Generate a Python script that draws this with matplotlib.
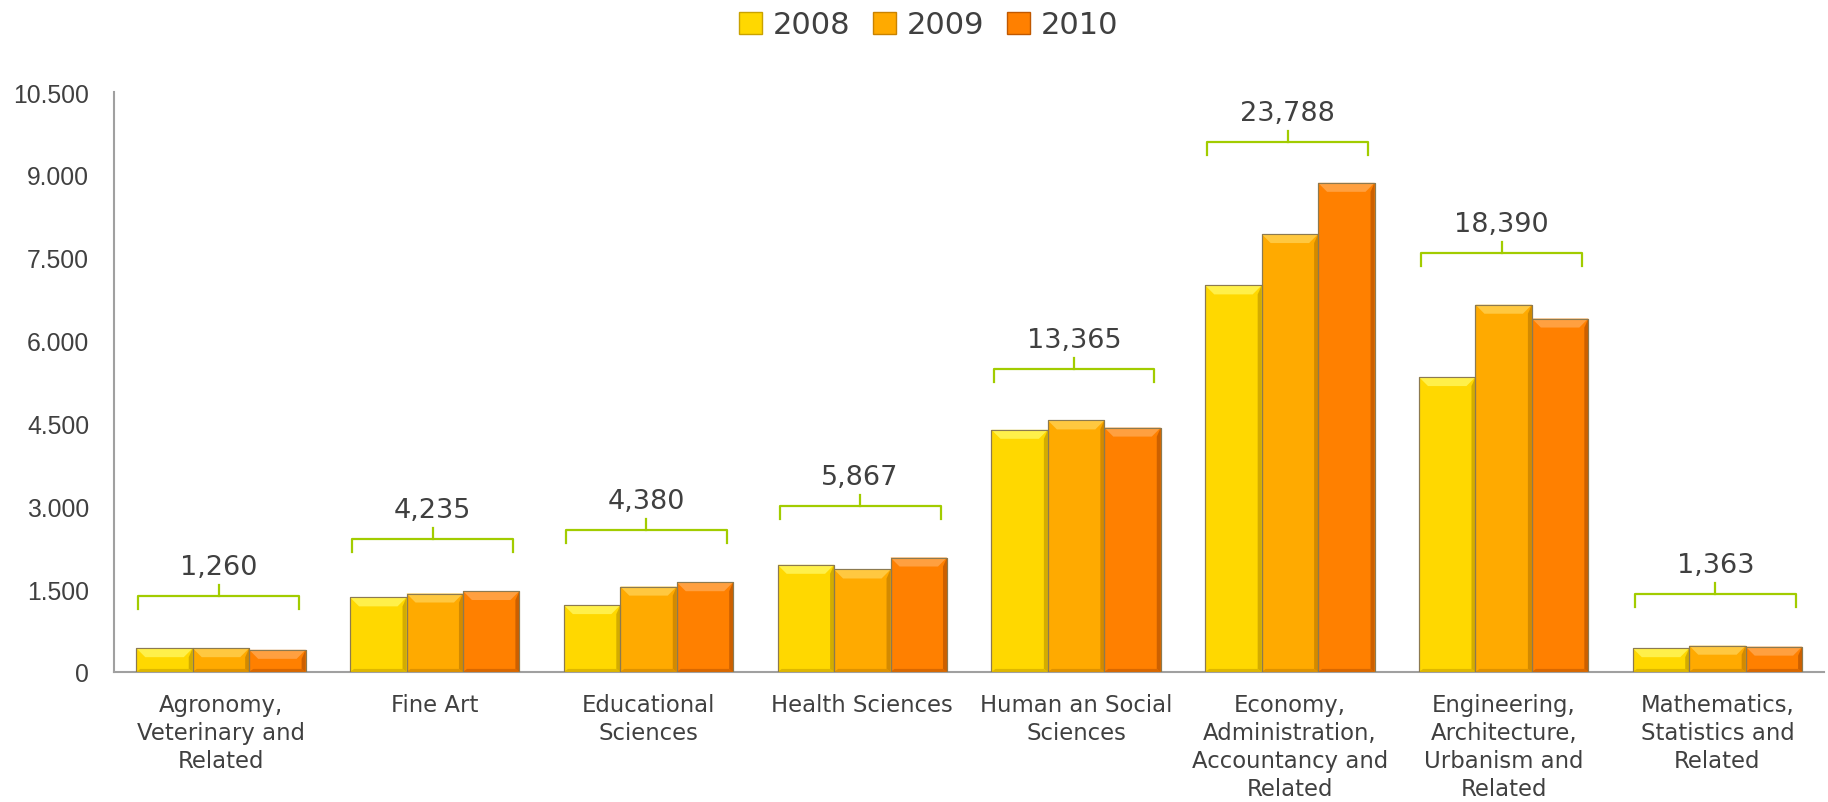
import matplotlib
matplotlib.use('Agg')
import matplotlib.pyplot as plt
import numpy as np
from matplotlib.patches import Polygon, Patch
from matplotlib.ticker import FuncFormatter

# ==========================================
# data
# ==========================================
categories = ['Agronomy,\nVeterinary and\nRelated', 'Fine Art', 'Educational\nSciences',
              'Health Sciences', 'Human an Social\nSciences',
              'Economy,\nAdministration,\nAccountancy and\nRelated',
              'Engineering,\nArchitecture,\nUrbanism and\nRelated',
              'Mathematics,\nStatistics and\nRelated']
years = ['2008', '2009', '2010']
v2008 = [430, 1350, 1210, 1940, 4385, 7000, 5340, 430]
v2009 = [430, 1420, 1545, 1855, 4555, 7930, 6650, 475]
v2010 = [400, 1465, 1625, 2072, 4425, 8858, 6400, 458]
totals = ['1,260', '4,235', '4,380', '5,867', '13,365', '23,788', '18,390', '1,363']
yticks = [0, 1500, 3000, 4500, 6000, 7500, 9000, 10500]

colors = ['#FFD800', '#FFAA00', '#FF8000']
light = ['#FFF04A', '#FFC840', '#FFA040']
dark = ['#C9A200', '#C98200', '#C05800']
txt_col = '#404040'
brace_col = '#A2CC00'

plt.rcParams['font.family'] = ['DejaVu Sans']

fig = plt.figure(figsize=(18.28, 8.03), dpi=100)
ax = fig.add_axes([0.0624, 0.162, 0.9356, 0.722])

x = np.arange(len(categories))
w = 0.264
series = [v2008, v2009, v2010]
bars = []
for i, vals in enumerate(series):
    b = ax.bar(x + (i - 1) * w, vals, width=w, color=colors[i], edgecolor='#8C7A50',
               linewidth=0.8, zorder=3, label=years[i])
    bars.append(b)

ax.set_xlim(-0.5, len(categories) - 0.5)
ax.set_ylim(0, 10500)

# bevel effect (sizes in pixels converted to data units)
fig.canvas.draw()
px_x = (ax.get_xlim()[1] - ax.get_xlim()[0]) / ax.get_window_extent().width
px_y = (ax.get_ylim()[1] - ax.get_ylim()[0]) / ax.get_window_extent().height
bev = 9
for i, b in enumerate(bars):
    for p in b.patches:
        x0, x1 = p.get_x(), p.get_x() + p.get_width()
        top = p.get_height()
        bx = bev * px_x
        by = min(bev * px_y, top / 2)
        sx = 4 * px_x
        ax.add_patch(Polygon([(x0, top), (x1, top), (x1 - bx, top - by), (x0 + bx, top - by)],
                             closed=True, facecolor=light[i], edgecolor='none', zorder=4))
        ax.add_patch(Polygon([(x1, top), (x1, 0), (x1 - sx, 3 * px_y), (x1 - sx, top - by)],
                             closed=True, facecolor=dark[i], edgecolor='none', zorder=4, alpha=0.8))
        ax.add_patch(Polygon([(x0, 0), (x1, 0), (x1 - sx, 3 * px_y), (x0 + sx, 3 * px_y)],
                             closed=True, facecolor=dark[i], edgecolor='none', zorder=4, alpha=0.6))
        ax.add_patch(plt.Rectangle((x0, 0), x1 - x0, top, fill=False, edgecolor='#8C7A50',
                                   linewidth=0.8, zorder=5))

# braces with group totals
for j in range(len(categories)):
    top = min(max(v2008[j], v2009[j], v2010[j]) + 940, 9590)
    left = x[j] - 1.5 * w + 0.01
    right = x[j] + 1.5 * w - 0.03
    mid = (left + right) / 2
    drop = 13 * px_y
    ax.plot([left, left, right, right], [top - drop, top, top, top - drop],
            color=brace_col, lw=1.6, zorder=6, solid_joinstyle='round')
    ax.plot([mid, mid], [top, top + 11 * px_y], color=brace_col, lw=1.6, zorder=6)
    ax.text(mid, top + 29 * px_y, totals[j], ha='center', va='center',
            fontsize=19.5, color=txt_col)

ax.set_yticks(yticks)
ax.yaxis.set_major_formatter(FuncFormatter(lambda v, p: f"{int(v):,}".replace(',', '.')))
for lab in ax.get_yticklabels():
    lab.set_fontfamily('Liberation Sans')
ax.tick_params(axis='y', length=0, pad=18, labelsize=17.8, labelcolor=txt_col)
ax.set_xticks(x)
ax.set_xticklabels(categories, fontsize=16.4, color=txt_col, linespacing=1.29)
ax.tick_params(axis='x', length=0, pad=15)

for s in ['top', 'right']:
    ax.spines[s].set_visible(False)
for s in ['left', 'bottom']:
    ax.spines[s].set_color('#A0A0A0')
    ax.spines[s].set_linewidth(1.5)

handles = [Patch(facecolor=colors[i], edgecolor=dark[i], label=years[i]) for i in range(3)]
fig.legend(handles=handles, loc='upper center', bbox_to_anchor=(0.508, 1.02), ncol=3,
           frameon=False, fontsize=22, handlelength=0.75, handleheight=0.75,
           handletextpad=0.35, columnspacing=0.75, labelcolor=txt_col)

plt.savefig('out.png', dpi=100)
